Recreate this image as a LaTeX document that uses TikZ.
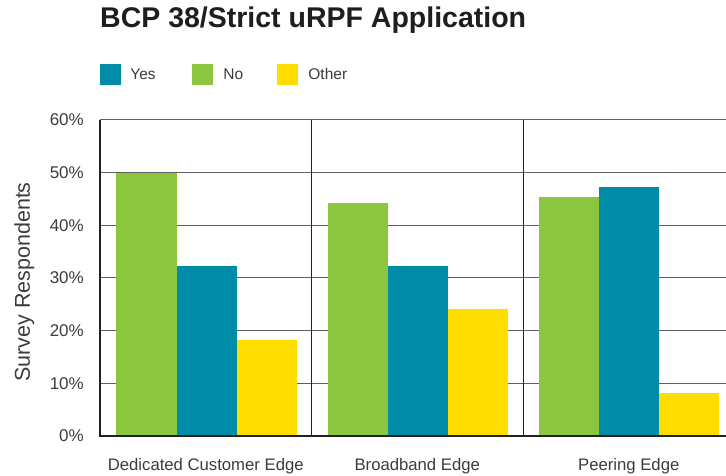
\documentclass[tikz,border=0pt]{standalone}
\usepackage{fontspec}
\setmainfont{Liberation Sans}
\usetikzlibrary{positioning}
\definecolor{yesteal}{RGB}{0, 140, 168}
\definecolor{nogreen}{RGB}{140, 198, 63}
\definecolor{otheryellow}{RGB}{255, 221, 0}
\definecolor{gridgray}{RGB}{95, 95, 95}
\definecolor{axisdark}{RGB}{35, 31, 32}
\definecolor{labelgray}{RGB}{60, 60, 60}
\definecolor{titleblack}{RGB}{30, 30, 30}

\begin{document}
\begin{tikzpicture}[
    x=1pt, y=1pt,
    title/.style={anchor=base west, inner sep=0, font=\fontsize{28.5}{32}\selectfont\bfseries, text=titleblack},
    legkey/.style={rectangle, minimum size=21pt, inner sep=0},
    legtext/.style={inner sep=0, text height=11pt, text depth=0pt, font=\fontsize{15.5}{18}\selectfont, text=labelgray},
    ticklabel/.style={anchor=east, inner sep=0, font=\fontsize{17}{20}\selectfont, text=labelgray},
    catlabel/.style={anchor=base, inner sep=0, font=\fontsize{16.7}{20}\selectfont, text=labelgray},
    gridline/.style={draw=gridgray, line width=1pt},
    divider/.style={draw=axisdark, line width=1pt},
    axisline/.style={draw=axisdark, line width=2pt}
]
    \useasboundingbox (0,0) rectangle (726,475);

    % Title and legend
    \node[title] (title) at (100,447) {BCP 38/Strict uRPF Application};

    \node[legkey, fill=yesteal] (keyyes) at (110.5,400.5) {};
    \node[legtext, right=9pt of keyyes] (txtyes) {Yes};
    \node[legkey, fill=nogreen] (keyno) at (202.5,400.5) {};
    \node[legtext, right=10pt of keyno] (txtno) {No};
    \node[legkey, fill=otheryellow] (keyother) at (287.5,400.5) {};
    \node[legtext, right=10pt of keyother] (txtother) {Other};

    % Plot area, y in percent
    \begin{scope}[shift={(100pt,39pt)}, y=5.267pt]
        \clip (-100,-10) rectangle (626,70);
        \foreach \p in {10,20,...,60}
            \draw[gridline] (0,\p) -- (626,\p);
        \draw[divider] (211.5,0) -- (211.5,60);
        \draw[divider] (423,0) -- (423,60);

        % Dedicated Customer Edge
        \fill[nogreen] (16,0) rectangle (76.5,50);
        \fill[yesteal] (76.5,0) rectangle (136.5,32.3);
        \fill[otheryellow] (136.5,0) rectangle (196.5,18.2);
        % Broadband Edge
        \fill[nogreen] (227.5,0) rectangle (288,44.2);
        \fill[yesteal] (288,0) rectangle (348,32.3);
        \fill[otheryellow] (348,0) rectangle (408,24.1);
        % Peering Edge
        \fill[nogreen] (438.5,0) rectangle (499,45.4);
        \fill[yesteal] (499,0) rectangle (559,47.3);
        \fill[otheryellow] (559,0) rectangle (619,8.2);

        \draw[axisline] (0,60) -- (0,0) -- (626,0);
    \end{scope}

    % Axis labels
    \foreach \p in {0,10,...,60}
        \node[ticklabel] (tick\p) at (84,39+5.267*\p) {\p\%};

    \node[catlabel] (catdce) at (205.75,5) {Dedicated Customer Edge};
    \node[catlabel] (catbb) at (417.25,5) {Broadband Edge};
    \node[catlabel] (catpe) at (628.75,5) {Peering Edge};

    \node[rotate=90, anchor=base, inner sep=0, font=\fontsize{21.5}{24}\selectfont, text=labelgray] (ylabel) at (30,193) {Survey Respondents};
\end{tikzpicture}
\end{document}
